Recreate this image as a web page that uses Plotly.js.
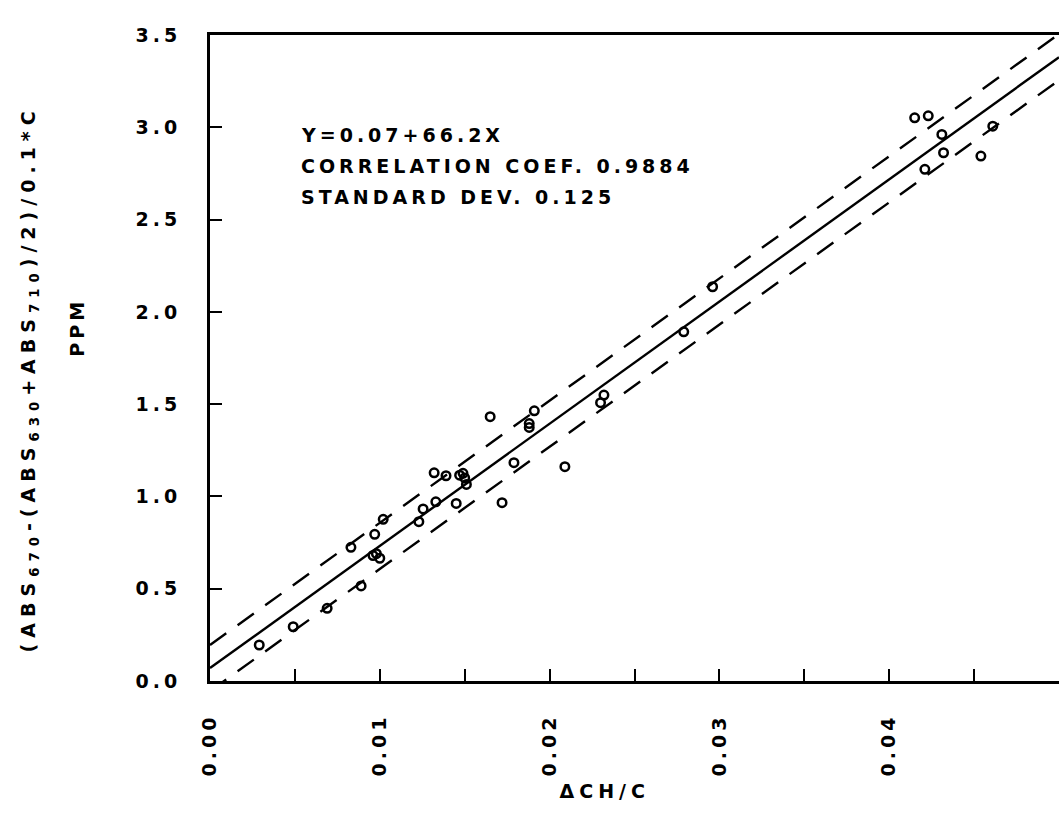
<!DOCTYPE html>
<html>
<head>
<meta charset="utf-8">
<script src="https://cdn.plot.ly/plotly-3.0.1.min.js"></script>
<style>
html,body{margin:0;padding:0;background:#fff;}
#chart text{letter-spacing:4px;}
#chart text.ytitle{letter-spacing:6px;}
#chart text.xtitle{letter-spacing:5px;}
</style>
</head>
<body>
<div id="chart" style="width:1059px;height:831px;"></div>
<script>
// Measured points (ΔCH/C, PPM)
const deltaCH = [0.0029,0.0049,0.0069,0.0089,0.0083,0.0097,0.0102,0.0096,0.0098,0.0100,
  0.0123,0.01255,0.0133,0.0132,0.0139,0.0145,0.0147,0.0149,0.0150,0.0151,
  0.0172,0.0179,0.0165,0.0191,0.0188,0.0188,0.0209,0.0232,0.0230,0.0296,0.0279,
  0.0415,0.0423,0.0431,0.0432,0.0421,0.0454,0.0461];
const ppm = [0.195,0.294,0.394,0.515,0.724,0.795,0.876,0.680,0.690,0.665,
  0.863,0.932,0.971,1.128,1.112,0.962,1.115,1.125,1.100,1.065,
  0.966,1.183,1.432,1.464,1.374,1.395,1.161,1.549,1.508,2.136,1.892,
  3.051,3.062,2.961,2.862,2.772,2.844,3.006];

// Regression stats as printed on the chart
const fitIntercept = 0.07;
const fitSlope = 66.2;
const fitStdDev = 0.125;
const fitCorr = 0.9884;
const statsLines = ["Y=0.07+66.2X", "CORRELATION COEF. 0.9884", "STANDARD DEV. 0.125"];

const xRange = [0, 0.05];
const yRange = [0, 3.5];
const xTitle = "ΔCH/C";
const yTitle = "(ABS<sub>670</sub>-(ABS<sub>630</sub>+ABS<sub>710</sub>)/2)/0.1*C";
const yTitle2 = "PPM";
const PAD = "\u2800"; // blank pattern, used only to offset title centring

const fit = x => fitIntercept + fitSlope * x;
const lineX = xRange.slice();
const mainY = lineX.map(fit);
const upY = lineX.map(x => fit(x) + fitStdDev);
const loY = lineX.map(x => fit(x) - fitStdDev);

const FONT = {family: "DejaVu Sans", size: 19, color: "#000", weight: 700};

const traces = [
  {x: lineX, y: mainY, mode: "lines", line: {color: "#000", width: 2.4}, hoverinfo: "skip"},
  {x: lineX, y: upY, mode: "lines", line: {color: "#000", width: 2.4, dash: "20px,14px"}, hoverinfo: "skip"},
  {x: lineX, y: loY, mode: "lines", line: {color: "#000", width: 2.4, dash: "20px,14px"}, hoverinfo: "skip"},
  {x: deltaCH, y: ppm, mode: "markers",
   marker: {symbol: "circle-open", size: 8.5, color: "#000", line: {width: 2.5, color: "#000"}}}
];

const annY = [0.845, 0.797, 0.749];
const annotations = statsLines.map((t, i) => ({
  xref: "paper", yref: "paper", x: 0.106, y: annY[i], xanchor: "left", yanchor: "middle",
  align: "left", borderpad: 0, text: t, showarrow: false, font: FONT
}));
annotations.push({
  xref: "paper", yref: "paper", x: -0.157, y: 0.548, xanchor: "center", yanchor: "middle",
  textangle: -90, text: yTitle2, showarrow: false, font: FONT
});

const layout = {
  width: 1059, height: 831,
  margin: {l: 210, r: 0, t: 35, b: 150},
  paper_bgcolor: "#fff", plot_bgcolor: "#fff",
  showlegend: false,
  font: FONT,
  xaxis: {
    range: xRange, dtick: 0.01, tick0: 0, tickformat: ".2f",
    ticks: "inside", ticklen: 12, tickwidth: 2, tickcolor: "#000",
    minor: {dtick: 0.005, ticks: "inside", ticklen: 12, tickwidth: 2, tickcolor: "#000"},
    tickangle: -90, ticklabelstandoff: 22,
    showline: true, linewidth: 3, linecolor: "#000", mirror: true,
    showgrid: false, zeroline: false,
    tickfont: FONT,
    title: {text: xTitle + PAD.repeat(3), font: FONT, standoff: 26}
  },
  yaxis: {
    range: yRange, dtick: 0.5, tick0: 0, tickformat: ".1f",
    ticks: "inside", ticklen: 12, tickwidth: 2, tickcolor: "#000",
    ticklabelstandoff: 22,
    showline: true, linewidth: 3, linecolor: "#000",
    showgrid: false, zeroline: false,
    tickfont: FONT,
    title: {text: yTitle + PAD.repeat(2), font: FONT, standoff: 107}
  },
  annotations: annotations
};

Plotly.newPlot("chart", traces, layout, {staticPlot: true, displayModeBar: false});
</script>
</body>
</html>
